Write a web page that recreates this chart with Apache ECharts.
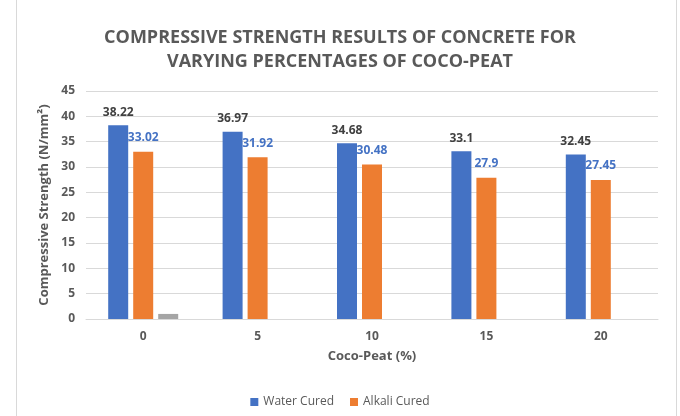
<!DOCTYPE html>
<html>
<head>
<meta charset="utf-8">
<script src="https://cdn.jsdelivr.net/npm/echarts@6/dist/echarts.min.js"></script>
<style>
  html, body { margin: 0; padding: 0; background: #fff; }
  #frame { position: absolute; left: 16px; top: 0; width: 659px; height: 416px;
           border-left: 1px solid #d9d9d9; border-right: 1px solid #d9d9d9; }
  #chart { position: absolute; left: 0; top: 0; width: 680px; height: 416px; }
</style>
</head>
<body>
<div id="frame"></div>
<div id="chart"></div>
<script>
var myChart = echarts.init(document.getElementById('chart')); //柱状图

var categories = ['0', '5', '10', '15', '20'];
var waterCured = [38.22, 36.97, 34.68, 33.1, 32.45];
var alkaliCured = [33.02, 31.92, 30.48, 27.9, 27.45];
var extraSeries = [1, null, null, null, null];

var fontName = '"Open Sans", "Noto Sans", sans-serif';

var option = {
	title: {
		text: 'COMPRESSIVE STRENGTH RESULTS OF CONCRETE FOR\nVARYING PERCENTAGES OF COCO-PEAT',
		left: 'center',
		top: 21,
		textStyle: {
			color: '#595959',
			fontFamily: fontName,
			fontWeight: 'bold',
			fontSize: 18,
			lineHeight: 24
		}
	},
	legend: {
		data: ['Water Cured', 'Alkali Cured'],
		top: 391,
		left: 'center',
		itemWidth: 8,
		itemHeight: 8,
		itemGap: 16,
		icon: 'rect',
		textStyle: {
			color: '#595959',
			fontFamily: fontName,
			fontSize: 12
		}
	},
	grid: {
		left: 86,
		right: 22,
		top: 91,
		bottom: 97
	},
	xAxis: {
		type: 'category',
		data: categories,
		name: 'Coco-Peat (%)',
		nameLocation: 'middle',
		nameGap: 31,
		nameTextStyle: {
			color: '#595959',
			fontFamily: fontName,
			fontWeight: 'bold',
			fontSize: 13
		},
		axisLine: { lineStyle: { color: '#d9d9d9' } },
		axisTick: { show: false },
		axisLabel: {
			color: '#595959',
			fontFamily: fontName,
			fontWeight: 'bold',
			fontSize: 12,
			margin: 12
		}
	},
	yAxis: {
		type: 'value',
		min: 0,
		max: 45,
		interval: 5,
		name: 'Compressive Strength (N/mm²)',
		nameLocation: 'middle',
		nameGap: 31,
		nameTextStyle: {
			color: '#595959',
			fontFamily: fontName,
			fontWeight: 'bold',
			fontSize: 13
		},
		axisLine: { show: false },
		axisTick: { show: false },
		axisLabel: {
			color: '#595959',
			fontFamily: fontName,
			fontWeight: 'bold',
			fontSize: 12,
			margin: 11
		},
		splitLine: { lineStyle: { color: '#d9d9d9' } }
	},
	series: [{
		name: 'Water Cured',
		type: 'bar',
		data: waterCured,
		barWidth: 20,
		barGap: '25%',
		itemStyle: { color: '#4472c4' },
		label: {
			show: true,
			position: 'top',
			distance: 7,
			color: '#404040',
			fontFamily: fontName,
			fontWeight: 'bold',
			fontSize: 12
		}
	}, {
		name: 'Alkali Cured',
		type: 'bar',
		data: alkaliCured,
		barWidth: 20,
		barGap: '25%',
		itemStyle: { color: '#ed7d31' },
		label: {
			show: true,
			position: 'top',
			distance: 8,
			color: '#4472c4',
			fontFamily: fontName,
			fontWeight: 'bold',
			fontSize: 12
		}
	}, {
		name: 'Series3',
		type: 'bar',
		data: extraSeries,
		barWidth: 20,
		barGap: '25%',
		itemStyle: { color: '#a5a5a5' }
	}]
};
myChart.setOption(option);
</script>
</body>
</html>
